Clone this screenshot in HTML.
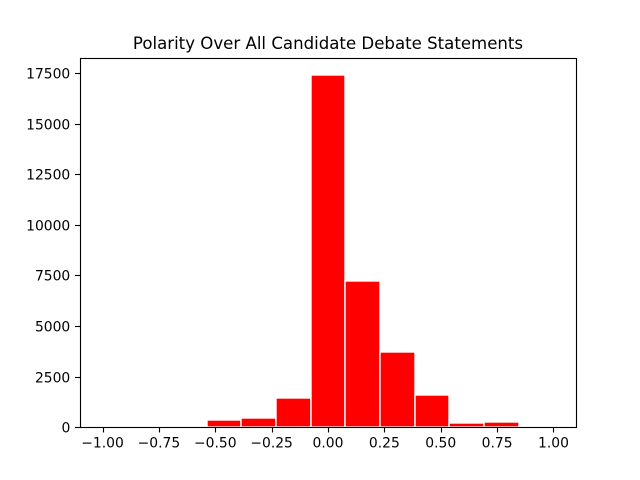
<!DOCTYPE html>
<html>
<head>
<meta charset="utf-8">
<title>Polarity Over All Candidate Debate Statements</title>
<style>
html,body{margin:0;padding:0;background:#fff;}
svg{display:block;}
text{font-family:"DejaVu Sans",sans-serif;fill:#000;}
</style>
</head>
<body>
<svg id="chart" xmlns="http://www.w3.org/2000/svg" width="640" height="480" viewBox="0 0 640 480"></svg>
<script>
const binEdges = [-1, -0.84615, -0.69231, -0.53846, -0.38462, -0.23077, -0.07692, 0.07692, 0.23077, 0.38462, 0.53846, 0.69231, 0.84615, 1];
const binCounts = [0, 0, 0, 350, 455, 1445, 17400, 7230, 3700, 1590, 208, 260, 0];
const xTicks = [-1, -0.75, -0.5, -0.25, 0, 0.25, 0.5, 0.75, 1];
const xTickLabels = ["−1.00", "−0.75", "−0.50", "−0.25", "0.00", "0.25", "0.50", "0.75", "1.00"];
const yTicks = [0, 2500, 5000, 7500, 10000, 12500, 15000, 17500];
const yTickLabels = ["0", "2500", "5000", "7500", "10000", "12500", "15000", "17500"];
const chartTitle = "Polarity Over All Candidate Debate Statements";

const svg = document.getElementById('chart');
const NS = 'http://www.w3.org/2000/svg';
const L = 80, R = 576, T = 57.6, B = 427.2;
const xMin = -1.1, xMax = 1.1, yMin = 0, yMax = 18270;
function xScale(v) { return L + (v - xMin) / (xMax - xMin) * (R - L); }
function yScale(v) { return B - (v - yMin) / (yMax - yMin) * (B - T); }
function snapLine(p) { return Math.floor(p + 0.5) + 0.5; }
function snapEdge(p) { return Math.floor(p + 0.5); }
function make(tag, attrs, text) {
  const el = document.createElementNS(NS, tag);
  for (const k in attrs) el.setAttribute(k, attrs[k]);
  if (text !== undefined) el.textContent = text;
  svg.appendChild(el);
  return el;
}

const bg = make('rect', {x: L, y: T, width: R - L, height: B - T, fill: '#fff'});



binCounts.forEach(function (c, i) {
  if (c <= 0) return;
  const x0 = snapEdge(xScale(binEdges[i]));
  const x1 = snapEdge(xScale(binEdges[i + 1]));
  const y0 = snapEdge(yScale(c));
  const y1 = snapEdge(yScale(0));
  const bar = make('rect', {x: x0, y: y0, width: x1 - x0, height: y1 - y0, fill: '#ff0000', stroke: '#fff', 'stroke-width': 1.39});
  
  
});

xTicks.forEach(function (v, i) {
  const x = snapLine(xScale(v));
  const tick = make('line', {x1: x, x2: x, y1: snapLine(B), y2: 432.5, stroke: '#000', 'stroke-width': 1.11});
  
  
  const label = make('text', {x: xScale(v), y: 447.6, 'text-anchor': 'middle', 'font-size': 13.89}, xTickLabels[i]);
  
  
});

yTicks.forEach(function (v, i) {
  const y = snapLine(yScale(v));
  const tick = make('line', {x1: 75, x2: snapLine(L), y1: y, y2: y, stroke: '#000', 'stroke-width': 1.11});
  
  
  const label = make('text', {x: L - 9.72, y: y + 5.2, 'text-anchor': 'end', 'font-size': 13.89}, yTickLabels[i]);
  
  
});

const fL = snapLine(L), fR = snapLine(R), fT = snapLine(T), fB = snapLine(B);
const frame = make('rect', {x: fL, y: fT, width: fR - fL, height: fB - fT, fill: 'none', stroke: '#000', 'stroke-width': 1.11});



const title = make('text', {x: (L + R) / 2, y: 49.1, 'text-anchor': 'middle', 'font-size': 16.6}, chartTitle);


</script>
</body>
</html>
